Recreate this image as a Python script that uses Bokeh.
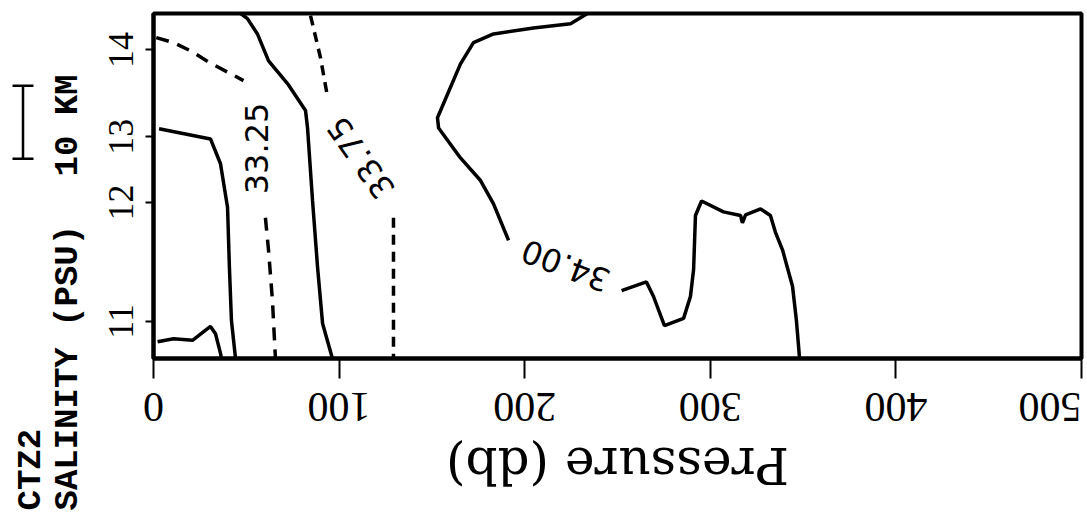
import math
from bokeh.plotting import figure
from bokeh.models import FixedTicker, Range1d, CustomJSTickFormatter
from bokeh.layouts import row, column
from bokeh.core.properties import value
from bokeh.embed import file_html
from bokeh.resources import INLINE

# ---- data (pressure in db, cross-shelf distance in km) ----
pressure_ticks = [0, 100, 200, 300, 400, 500]
pressure_tick_labels = ["0", "100", "200", "300", "400", "500"]
station_km = [5.1, 21.4, 30.4, 42.3]
station_labels = ["11", "12", "13", "14"]

# solid contour, small patch near bottom-left
a_p = [2.2, 10.8, 21.0, 30.7, 33.4, 36.1, 36.6]
a_k = [2.3, 2.7, 2.5, 4.4, 3.4, 0.7, 0.0]

# solid contour, left column
b_p = [3.0, 30.7, 36.1, 39.9, 40.9, 42.0, 44.2]
b_k = [31.5, 30.1, 26.7, 20.7, 12.5, 5.2, 0.0]

# 33.25 dashed contour (upper part and lower part)
c1_p = [1.5, 10.8, 19.9, 30.0, 48.5]
c1_k = [44.0, 43.3, 42.2, 40.6, 38.1]
c2_p = [60.3, 62.0, 64.1, 65.7]
c2_k = [19.3, 14.8, 7.9, 0.0]

# solid contour between 33.25 and 33.75
d_p = [47.0, 50.6, 56.0, 62.0, 72.2, 81.9, 83.0, 85.7, 88.4, 91.1, 96.4]
d_k = [47.3, 46.6, 44.5, 40.8, 37.7, 34.0, 31.6, 21.6, 12.5, 4.8, 0.0]

# 33.75 dashed contour
f1_p = [84.6, 86.2, 90.0, 93.8]
f1_k = [47.0, 45.3, 41.2, 35.8]
f2_p = [129.3, 129.3]
f2_k = [19.3, 0.0]

# 34.00 solid contour
g1_p = [233.8, 224.7, 204.7, 183.2, 172.4, 165.4, 153.0, 153.6, 165.4, 176.2, 183.2, 191.3]
g1_k = [47.3, 45.9, 45.3, 44.5, 43.3, 40.4, 33.0, 31.6, 27.5, 24.4, 21.2, 16.2]
g2_p = [252.2, 265.6, 269.4, 275.3, 285.6, 289.3, 291.0, 292.0, 295.3, 307.1, 316.3,
        317.3, 319.0, 327.1, 332.4, 335.1, 338.9, 344.3, 346.4, 348.1]
g2_k = [9.3, 10.5, 8.5, 4.5, 5.5, 8.5, 12.2, 19.6, 21.6, 20.1, 19.6,
        18.6, 19.7, 20.5, 19.6, 17.3, 14.9, 9.9, 5.2, 0.0]

# contour labels
lab_text = ["33.25", "33.75", "34.00"]
lab_p = [55.5, 111.5, 222.0]
lab_k = [28.8, 27.5, 12.7]
lab_angle_deg = [90, 125, 159]

scale_bar_km = 10
scale_bar_start_km = 27.4

P_MIN, P_MAX = 0, 500
K_MIN, K_MAX = 0, 47.3

# ---- layout geometry (pixels) ----
W, H = 1087, 516
LEFT_W = 88
FRAME_L, FRAME_R, FRAME_T, FRAME_B = 153, 1081, 13, 358
MAIN_H = 383
db_per_px = (P_MAX - P_MIN) / (FRAME_R - FRAME_L)
km_per_px = (K_MAX - K_MIN) / (FRAME_B - FRAME_T)


def km_at(py):
    return K_MIN + (FRAME_B - py) * km_per_px


def db_at(px):
    return P_MIN + (px - FRAME_L) * db_per_px


def no_align(fig):
    try:
        fig.frame_align = False
    except Exception:
        pass


# ---- main figure ----
p = figure(width=W - LEFT_W, height=MAIN_H, x_range=(P_MIN, P_MAX), y_range=(K_MIN, K_MAX),
           output_backend="svg", toolbar_location=None,
           min_border_left=FRAME_L - LEFT_W, min_border_right=W - FRAME_R,
           min_border_top=FRAME_T, min_border_bottom=MAIN_H - FRAME_B)
no_align(p)
p.grid.visible = False
p.outline_line_color = "black"
p.outline_line_width = 4

xa = p.xaxis[0]
xa.ticker = FixedTicker(ticks=pressure_ticks)
xa.formatter = CustomJSTickFormatter(code="return ''")
xa.major_label_standoff = 0
xa.major_tick_out = 20
xa.major_tick_in = 0
xa.major_tick_line_width = 2
xa.minor_tick_line_color = None
xa.axis_line_width = 4

ya = p.yaxis[0]
ya.ticker = FixedTicker(ticks=station_km)
ya.major_label_overrides = {k: s for k, s in zip(station_km, station_labels)}
ya.major_label_orientation = "vertical"
ya.major_label_text_font = "Liberation Serif"
ya.major_label_text_font_size = "36px"
ya.major_label_text_color = "black"
ya.major_label_standoff = 12
ya.major_tick_out = 8
ya.major_tick_in = 0
ya.major_tick_line_width = 2
ya.minor_tick_line_color = None
ya.axis_line_width = 4

for xs, ys in [(a_p, a_k), (b_p, b_k), (d_p, d_k), (g1_p, g1_k), (g2_p, g2_k)]:
    p.line(xs, ys, line_color="black", line_width=3.5)
for xs, ys in [(c1_p, c1_k), (c2_p, c2_k)]:
    p.line(xs, ys, line_color="black", line_width=3.5, line_dash="13 9")
for xs, ys in [(f1_p, f1_k), (f2_p, f2_k)]:
    p.line(xs, ys, line_color="black", line_width=3.5, line_dash="10 7")

p.text(x=lab_p, y=lab_k, text=lab_text,
       angle=[math.radians(a) for a in lab_angle_deg],
       text_align="center", text_baseline="middle",
       text_font=value("DejaVu Sans"), text_font_size="32px", text_color="black")

# ---- bottom strip: upside-down tick labels and axis title ----
BOT_H = H - MAIN_H
b = figure(width=W - LEFT_W, height=BOT_H,
           x_range=Range1d(db_at(LEFT_W), db_at(W)), y_range=Range1d(BOT_H, 0),
           output_backend="svg", toolbar_location=None,
           x_axis_location=None, y_axis_location=None,
           min_border_left=0, min_border_right=0, min_border_top=0, min_border_bottom=0)
no_align(b)
b.grid.visible = False
b.outline_line_color = None
tick_align = ["center"] * (len(pressure_ticks) - 1) + ["left"]
b.text(x=pressure_ticks, y=[406 - MAIN_H] * len(pressure_ticks), text=pressure_tick_labels,
       angle=math.pi, text_align=tick_align, text_baseline="middle",
       text_font=value("Liberation Serif"), text_font_size="42px", text_color="black")
b.text(x=[(P_MIN + P_MAX) / 2], y=[464 - MAIN_H], text=["Pressure (db)"],
       angle=math.pi, text_align="center", text_baseline="middle",
       text_font=value("DejaVu Serif"), text_font_size="50px", text_color="black")

# ---- left strip: figure caption and 10 km scale bar ----
l = figure(width=LEFT_W, height=H, x_range=Range1d(0, LEFT_W),
           y_range=Range1d(km_at(H), km_at(0)),
           output_backend="svg", toolbar_location=None,
           x_axis_location=None, y_axis_location=None,
           min_border_left=0, min_border_right=0, min_border_top=0, min_border_bottom=0)
no_align(l)
l.grid.visible = False
l.outline_line_color = None
l.text(x=[30, 67], y=[km_at(510), km_at(510)], text=["CTZ2", "SALINITY (PSU)"],
       angle=math.pi / 2, text_align="left", text_baseline="middle",
       text_font=value("Liberation Mono"), text_font_size="34px",
       text_font_style="bold", text_color="black")
l.text(x=[67], y=[km_at(176)], text=["10 KM"],
       angle=math.pi / 2, text_align="left", text_baseline="middle",
       text_font=value("Liberation Mono"), text_font_size="34px",
       text_font_style="bold", text_color="black")
bar_y0, bar_y1 = scale_bar_start_km, scale_bar_start_km + scale_bar_km
l.segment(x0=[22.5, 12, 12], y0=[bar_y0, bar_y0, bar_y1],
          x1=[22.5, 33, 33], y1=[bar_y1, bar_y0, bar_y1],
          line_color="black", line_width=2.5)

layout = row(l, column(p, b, spacing=0), spacing=0)
open("out.html", "w").write(file_html(layout, INLINE))
